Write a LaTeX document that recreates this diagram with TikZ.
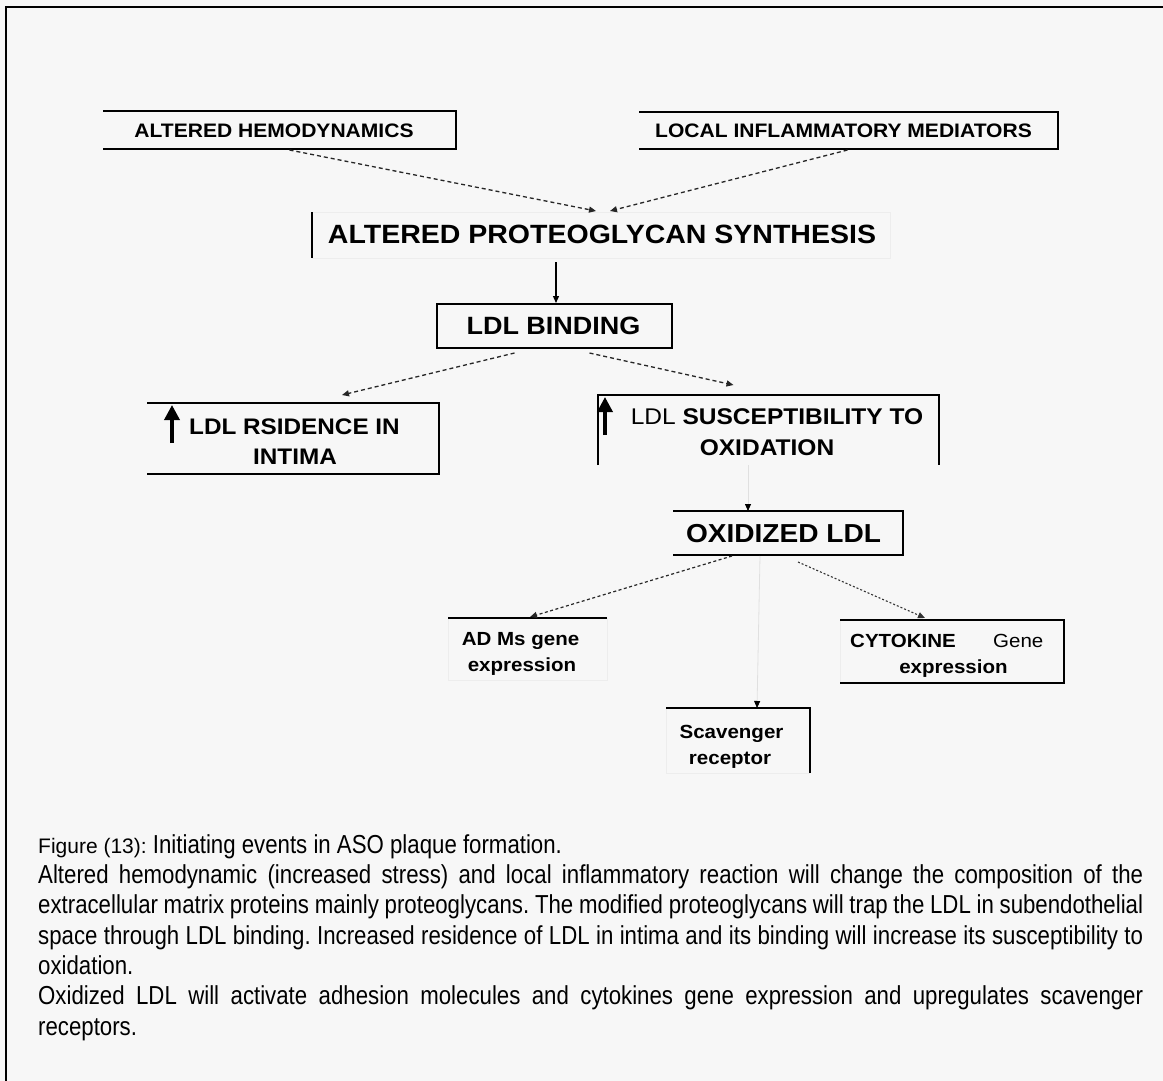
\documentclass[tikz,border=0pt]{standalone}
\usepackage{fontspec}
\setmainfont{Liberation Sans}
\newfontfamily\boxfont[FakeStretch=1.08]{Liberation Sans}
\newfontfamily\capfont[FakeStretch=0.855]{Liberation Sans}
\usetikzlibrary{arrows.meta,calc}
\definecolor{bg}{RGB}{247,247,247}
\newcommand\fsz[2]{\fontsize{#1}{#2}\selectfont}
\frenchspacing
\tikzset{
  area/.style={inner sep=0pt,outer sep=0pt,draw=none},
  edge/.style={line width=1.5pt,black},
  faintedge/.style={line width=0.8pt,black!7},
  lbl/.style={inner sep=0pt,anchor=base},
  capline/.style={inner sep=0pt,anchor=base west,font=\capfont\fsz{26}{30}},
  dasharr/.style={line width=1.3pt,black!85,dash pattern=on 4pt off 3pt,-{Triangle[length=7pt,width=6pt]}},
  dotarr/.style={line width=1.1pt,black!80,dash pattern=on 2pt off 2pt,-{Triangle[length=7pt,width=6pt]}},
  mixarr/.style={line width=1.2pt,black!85,dash pattern=on 3pt off 2.5pt,-{Triangle[length=7pt,width=6pt]}},
  solidarr/.style={line width=1.3pt,black,-{Triangle[length=7pt,width=6pt]}},
  faintarr/.style={line width=0.8pt,black!12,-{Triangle[length=7pt,width=6pt,color=black]}},
  uparr/.style={line width=3.5pt,black,-{Triangle[length=15pt,width=15pt]}},
}
\begin{document}
\begin{tikzpicture}[x=1pt,y=-1pt]
\fill[bg] (0,0) rectangle (1163,1081);
\useasboundingbox (0,0) rectangle (1163,1081);
% outer frame
\draw[line width=2pt] (6,1081) -- (6,7) -- (1163,7);

% boxes
\node[area,minimum width=353pt,minimum height=38pt] (hemo) at (279.5,130) {};
\node[area,minimum width=419pt,minimum height=37pt] (local) at (848.5,130.5) {};
\node[area,minimum width=578pt,minimum height=46pt] (proteo) at (601,235) {};
\node[area,minimum width=235pt,minimum height=44pt] (ldlb) at (554.5,326) {};
\node[area,minimum width=292pt,minimum height=71pt] (resid) at (293,438.5) {};
\node[area,minimum width=341pt,minimum height=70pt] (susc) at (768.5,430) {};
\node[area,minimum width=230pt,minimum height=44pt] (oxid) at (788,533) {};
\node[area,minimum width=159pt,minimum height=62pt] (adms) at (527.5,649) {};
\node[area,minimum width=144pt,minimum height=65pt] (scav) at (738,740.5) {};
\node[area,minimum width=224pt,minimum height=63pt] (cyto) at (952,651.5) {};

% box borders
\draw[edge] (hemo.north west) -- (hemo.north east) -- (hemo.south east) -- (hemo.south west);
\draw[edge] (local.north west) -- (local.north east) -- (local.south east) -- (local.south west);
\draw[faintedge] (proteo.north west) -- (proteo.north east) -- (proteo.south east) -- (proteo.south west);
\draw[edge] (proteo.north west) -- (proteo.south west);
\draw[edge] (ldlb.north west) rectangle (ldlb.south east);
\draw[edge] (resid.north west) -- (resid.north east) -- (resid.south east) -- (resid.south west);
\draw[edge] (susc.south west) -- (susc.north west) -- (susc.north east) -- (susc.south east);
\draw[edge] (oxid.north west) -- (oxid.north east) -- (oxid.south east) -- (oxid.south west);
\draw[faintedge] (adms.north west) -- (adms.south west) -- (adms.south east) -- (adms.north east);
\draw[edge] (adms.north west) -- (adms.north east);
\draw[faintedge] (scav.north west) -- (scav.south west) -- (scav.south east);
\draw[edge] (scav.north west) -- (scav.north east) -- (scav.south east);
\draw[faintedge] (cyto.north west) -- (cyto.south west);
\draw[edge] (cyto.north west) -- (cyto.north east) -- (cyto.south east) -- (cyto.south west);

% labels
\node[lbl,font=\boxfont\bfseries\fsz{19.5}{24}] (hemoT) at (274,137) {ALTERED HEMODYNAMICS};
\node[lbl,font=\boxfont\bfseries\fsz{19.5}{24}] (localT) at (843.5,137) {LOCAL INFLAMMATORY MEDIATORS};
\node[lbl,font=\boxfont\bfseries\fsz{26.4}{30}] (proteoT) at (602,243) {ALTERED PROTEOGLYCAN SYNTHESIS};
\node[lbl,font=\boxfont\bfseries\fsz{25}{30}] (ldlbT) at (553.5,334) {LDL BINDING};
\node[lbl,font=\boxfont\bfseries\fsz{22.5}{30}] (residT1) at (294.5,434) {LDL RSIDENCE IN};
\node[lbl,font=\boxfont\bfseries\fsz{22.5}{30}] (residT2) at (295,464) {INTIMA};
\node[lbl,font=\boxfont\bfseries\fsz{22.7}{30}] (suscT1) at (777,424) {{\mdseries LDL} SUSCEPTIBILITY TO};
\node[lbl,font=\boxfont\bfseries\fsz{22.7}{30}] (suscT2) at (767,455) {OXIDATION};
\node[lbl,font=\boxfont\bfseries\fsz{26}{30}] (oxidT) at (783.5,542) {OXIDIZED LDL};
\node[lbl,font=\boxfont\bfseries\fsz{19}{24}] (admsT1) at (520.5,645) {AD Ms gene};
\node[lbl,font=\boxfont\bfseries\fsz{19}{24}] (admsT2) at (522,671) {expression};
\node[lbl,font=\boxfont\bfseries\fsz{19}{24}] (scavT1) at (731.5,738) {Scavenger};
\node[lbl,font=\boxfont\bfseries\fsz{19}{24}] (scavT2) at (730,764) {receptor};
\node[lbl,anchor=base west,font=\boxfont\bfseries\fsz{19}{24}] (cytoT1) at (850,647) {CYTOKINE};
\node[lbl,anchor=base west,font=\boxfont\fsz{19}{24}] (cytoT1b) at (993,647) {Gene};
\node[lbl,font=\boxfont\bfseries\fsz{19}{24}] (cytoT2) at (953.5,673) {expression};

% up arrows inside boxes
\draw[uparr] ($(resid.north west)+(25,40)$) -- ($(resid.north west)+(25,2)$);
\draw[uparr] ($(susc.north west)+(7,40)$) -- ($(susc.north west)+(7,2)$);

% connectors
\draw[dasharr] ($(hemo.south)+(10,1)$) -- ($(proteo.north)+(-5,-1)$);
\draw[dasharr] ($(local.south)+(-1,1)$) -- ($(proteo.north)+(9,-1)$);
\draw[solidarr] ($(ldlb.north)+(1.5,-42)$) -- ($(ldlb.north)+(1.5,-1)$);
\draw[dasharr] ($(ldlb.south)+(-40,5)$) -- ($(resid.north)+(49,-8)$);
\draw[dasharr] ($(ldlb.south)+(35,5)$) -- ($(susc.north)+(-35,-10)$);
\draw[faintarr] ($(oxid.north)+(-40,-46)$) -- ($(oxid.north)+(-40,0)$);
\draw[mixarr] ($(oxid.south)+(-56,1)$) -- ($(adms.north)+(2.5,-1)$);
\draw[faintarr] ($(oxid.south)+(-28,1)$) -- ($(scav.north)+(19,0)$);
\draw[dotarr] ($(oxid.south)+(10,7)$) -- ($(cyto.north)+(-27,-2)$);

% caption
\node[capline] (cap1) at (38,853) {{\rmfamily\fsz{21}{24}Figure (13):} Initiating events in ASO plaque formation.};
\node[capline] (cap2) at (38,883) {\makebox[1105pt][s]{Altered hemodynamic (increased stress) and local inflammatory reaction will change the composition of the}};
\node[capline] (cap3) at (38,913) {\makebox[1105pt][s]{extracellular matrix proteins mainly proteoglycans. The modified proteoglycans will trap the LDL in subendothelial}};
\node[capline] (cap4) at (38,944) {\makebox[1105pt][s]{space through LDL binding. Increased residence of LDL in intima and its binding will increase its susceptibility to}};
\node[capline] (cap5) at (38,974) {oxidation.};
\node[capline] (cap6) at (38,1004) {\makebox[1105pt][s]{Oxidized LDL will activate adhesion molecules and cytokines gene expression and upregulates scavenger}};
\node[capline] (cap7) at (38,1035) {receptors.};
\end{tikzpicture}
\end{document}
